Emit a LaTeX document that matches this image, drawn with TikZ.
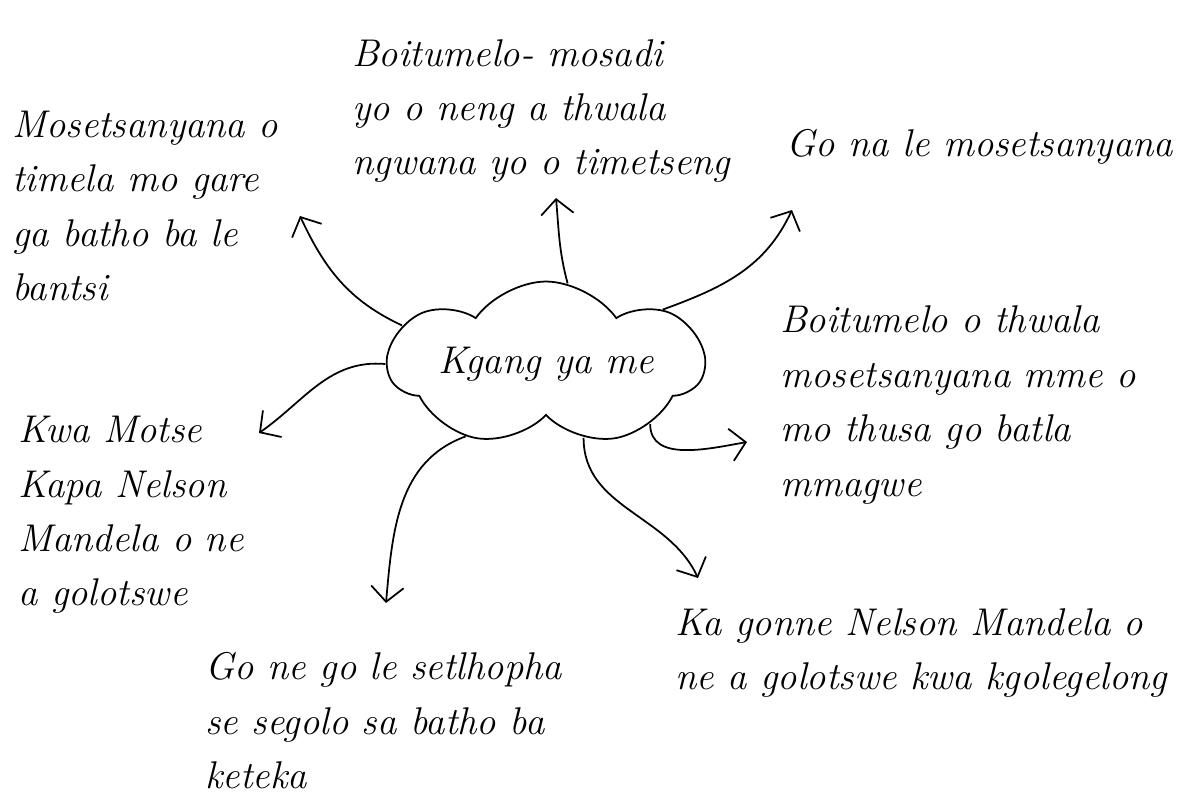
\documentclass[tikz,border=0pt]{standalone}
\usepackage{fontspec}
\usetikzlibrary{shapes.symbols,arrows.meta}
\tikzset{
  note/.style={anchor=west, align=left, inner sep=0pt, font=\fontsize{22}{31}\selectfont\itshape},
  branch/.style={line width=1pt, -{Straight Barb[length=3mm,width=6.5mm]}}
}
\begin{document}
\begin{tikzpicture}[x=0.02cm,y=0.02cm]
  \useasboundingbox (0,0) rectangle (1187,-799);
  \node (kgang) at (546,-364) [cloud, draw, line width=1pt, cloud puffs=7, cloud puff arc=110, cloud ignores aspect,
    minimum width=6.3cm, minimum height=3.3cm, font=\fontsize{22}{31}\selectfont\itshape] {Kgang ya me};
  % mafoko a a dikologang kgang
  \node (timela) at (12,-206) [note] {Mosetsanyana o\\timela mo gare\\ga batho ba le\\bantsi};
  \node (mosadi) at (352,-111) [note] {Boitumelo- mosadi\\yo o neng a thwala\\ngwana yo o timetseng};
  \node (mosetsana) at (786,-147) [note] {Go na le mosetsanyana};
  \node (thwala) at (780,-405) [note] {Boitumelo o thwala\\mosetsanyana mme o\\mo thusa go batla\\mmagwe};
  \node (kgolegelo) at (675,-653) [note] {Ka gonne Nelson Mandela o\\ne a golotswe kwa kgolegelong};
  \node (setlhopha) at (205,-721) [note] {Go ne go le setlhopha\\se segolo sa batho ba\\keteka};
  \node (motse) at (18,-515) [note] {Kwa Motse\\Kapa Nelson\\Mandela o ne\\a golotswe};
  % ditlhogo tsa metsu
  \coordinate (tip1) at (300,-216);
  \coordinate (tip2) at (556,-198);
  \coordinate (tip3) at (792,-210);
  \coordinate (tip4) at (259,-433);
  \coordinate (tip5) at (747,-442);
  \coordinate (tip6) at (698,-578);
  \coordinate (tip7) at (386,-603);
  \foreach \a/\t/\o/\n in {165/tip1/155/-65, 75/tip2/105/-85, 25/tip3/20/-115, 180/tip4/175/35,
                           330/tip5/-90/190, 297/tip6/-90/115, 222/tip7/200/85} {
    \draw[branch] (kgang.\a) to[out=\o,in=\n] (\t);
  }
\end{tikzpicture}
\end{document}
